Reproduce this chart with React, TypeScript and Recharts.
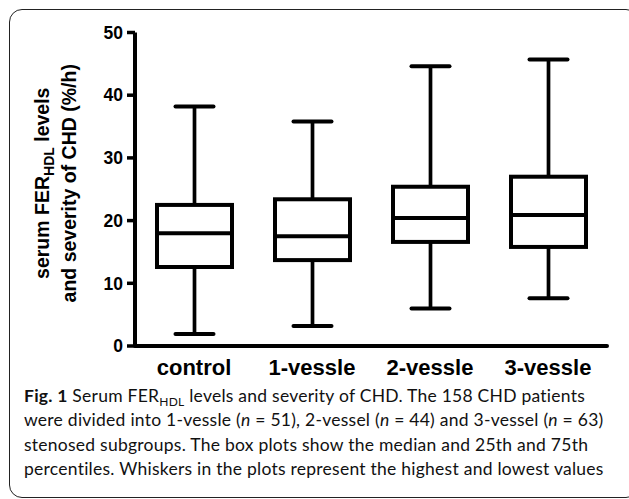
import React from 'react';
import { ComposedChart, Bar, XAxis, YAxis } from 'recharts';

// groups and box-plot statistics (%/h)
const groups = ['control', '1-vessle', '2-vessle', '3-vessle'];
const minValues = [1.9, 3.2, 6.0, 7.6];
const q1Values = [12.6, 13.7, 16.6, 15.8];
const medianValues = [18.0, 17.5, 20.4, 20.9];
const q3Values = [22.5, 23.4, 25.4, 27.0];
const maxValues = [38.2, 35.8, 44.6, 45.7];
const yTicks = [0, 10, 20, 30, 40, 50];

const data = groups.map((name, i) => ({
  name,
  min: minValues[i],
  q1: q1Values[i],
  median: medianValues[i],
  q3: q3Values[i],
  max: maxValues[i],
  range: [minValues[i], maxValues[i]],
}));

const FONT = '"Liberation Sans", Arial, Helvetica, sans-serif';

// draws one box + whiskers inside the pixel span of the [min, max] range bar
const BoxShape = (props: any) => {
  const { x, y, width, height, payload } = props;
  if (!payload) return null;
  const top = Math.min(y, y + height);
  const span = Math.abs(height);
  const toPx = (v: number) => top + ((payload.max - v) / (payload.max - payload.min)) * span;
  const cx = x + width / 2;
  const capHalf = 19;
  const yMax = toPx(payload.max);
  const yMin = toPx(payload.min);
  const yQ3 = toPx(payload.q3);
  const yQ1 = toPx(payload.q1);
  const yMed = toPx(payload.median);
  return (
    <g stroke="#000" fill="none">
      <line x1={cx} y1={yMax} x2={cx} y2={yQ3} strokeWidth={3.7} />
      <line x1={cx} y1={yQ1} x2={cx} y2={yMin} strokeWidth={3.7} />
      <line x1={cx - capHalf} y1={yMax} x2={cx + capHalf} y2={yMax} strokeWidth={4} strokeLinecap="round" />
      <line x1={cx - capHalf} y1={yMin} x2={cx + capHalf} y2={yMin} strokeWidth={4} strokeLinecap="round" />
      <rect x={x} y={yQ3} width={width} height={yQ1 - yQ3} fill="#fff" strokeWidth={4} />
      <line x1={x} y1={yMed} x2={x + width + 1.5} y2={yMed} strokeWidth={4} />
    </g>
  );
};

const XTick = ({ x, y, payload }: any) => (
  <text x={x} y={y + 29} textAnchor="middle" fontFamily={FONT} fontWeight="bold" fontSize={22} fill="#000">
    {payload.value}
  </text>
);

const YTick = ({ x, y, payload }: any) => (
  <text x={x} y={y} dy={6.2} textAnchor="end" fontFamily={FONT} fontWeight="bold" fontSize={17.5} fill="#000">
    {payload.value}
  </text>
);

const YTitle = (props: any) => {
  const vb = props.viewBox || { x: 0, y: 32.5, width: 135, height: 313.5 };
  const cy = vb.y + vb.height / 2 - 6;
  const common = {
    textAnchor: 'middle' as const,
    fontFamily: FONT,
    fontWeight: 'bold' as const,
    fontSize: 19.5,
    fill: '#000',
  };
  return (
    <g>
      <text x={49} y={cy} transform={`rotate(-90, 49, ${cy})`} {...common}>
        serum FER
        <tspan fontSize={14} dy={5}>HDL</tspan>
        <tspan dy={-5}> levels</tspan>
      </text>
      <text x={76} y={cy} transform={`rotate(-90, 76, ${cy})`} {...common}>
        and severity of CHD (%/h)
      </text>
    </g>
  );
};

export default function App() {
  return (
    <div style={{ position: 'absolute', left: 0, top: 0, width: 629, height: 499, background: '#fff', overflow: 'hidden' }}>
      <div
        style={{
          position: 'absolute',
          left: 9,
          top: 9,
          width: 630,
          height: 489,
          border: '1.6px solid #222',
          borderRadius: 13,
          boxSizing: 'border-box',
        }}
      />
      <div style={{ position: 'absolute', left: 0, top: 0 }}>
        <ComposedChart
          width={629}
          height={400}
          data={data}
          margin={{ top: 32.5, right: 22, bottom: 24, left: 0 }}
        >
          <XAxis
            dataKey="name"
            axisLine={{ stroke: '#000', strokeWidth: 4, strokeLinecap: 'round' }}
            tickLine={false}
            tickSize={0}
            tickMargin={0}
            height={30}
            tick={<XTick />}
            interval={0}
          />
          <YAxis
            type="number"
            domain={[0, 50]}
            ticks={yTicks}
            width={135}
            axisLine={{ stroke: '#000', strokeWidth: 4 }}
            tickLine={{ stroke: '#000', strokeWidth: 3.5 }}
            tickSize={8}
            tickMargin={4}
            tick={<YTick />}
            label={{ content: <YTitle /> }}
          />
          <Bar dataKey="range" barSize={75} shape={<BoxShape />} isAnimationActive={false} />
        </ComposedChart>
      </div>
      <div
        style={{
          position: 'absolute',
          left: 24,
          top: 384,
          fontFamily: 'Lato, "Noto Sans", sans-serif',
          fontSize: 17.5,
          letterSpacing: 0.25,
          lineHeight: '24.3px',
          color: '#111',
          whiteSpace: 'nowrap',
        }}
      >
        <div>
          <b>Fig. 1</b> Serum FER
          <sub style={{ fontSize: 12, verticalAlign: 'baseline', position: 'relative', top: 4, lineHeight: 0 }}>HDL</sub>{' '}
          levels and severity of CHD. The 158 CHD patients
        </div>
        <div>
          were divided into 1-vessle (<i>n</i> = 51), 2-vessel (<i>n</i> = 44) and 3-vessel (<i>n</i> = 63)
        </div>
        <div>stenosed subgroups. The box plots show the median and 25th and 75th</div>
        <div>percentiles. Whiskers in the plots represent the highest and lowest values</div>
      </div>
    </div>
  );
}
